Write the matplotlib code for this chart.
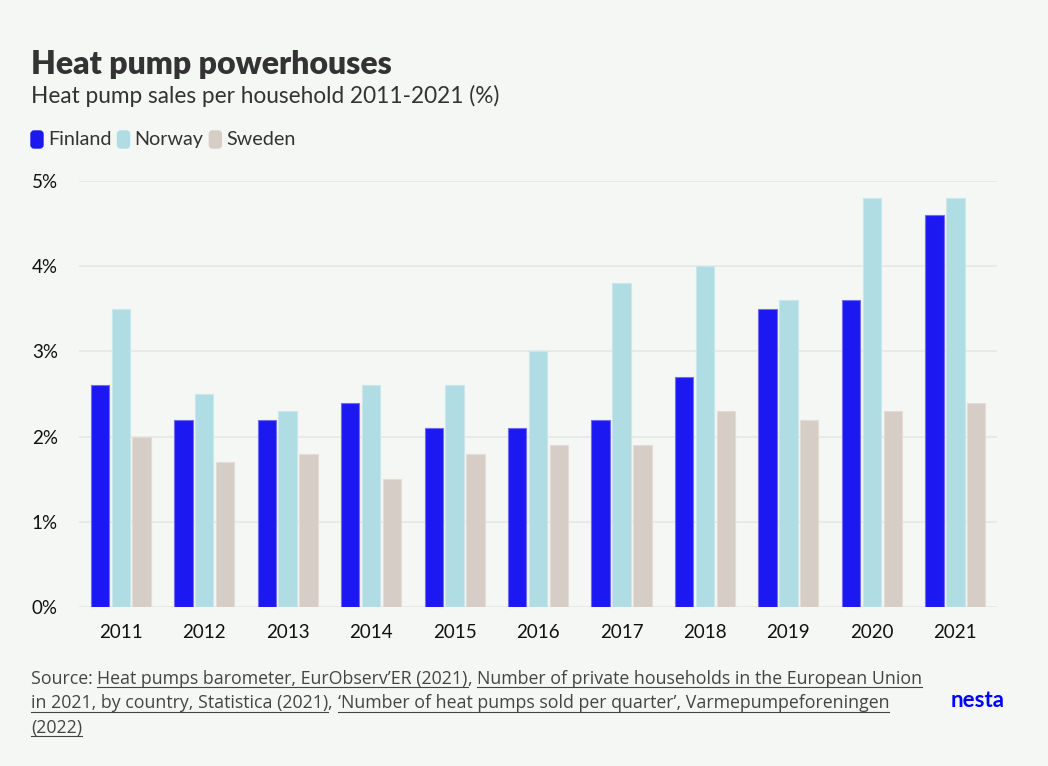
import matplotlib
matplotlib.use('Agg')
import numpy as np
from matplotlib import pyplot as plt
from matplotlib.patches import FancyBboxPatch
from matplotlib.ticker import FuncFormatter

# Heat pump sales per household (%)
years = ['2011', '2012', '2013', '2014', '2015', '2016', '2017', '2018', '2019', '2020', '2021']
finland = [2.6, 2.2, 2.2, 2.4, 2.1, 2.1, 2.2, 2.7, 3.5, 3.6, 4.6]
norway = [3.5, 2.5, 2.3, 2.6, 2.6, 3.0, 3.8, 4.0, 3.6, 4.8, 4.8]
sweden = [2.0, 1.7, 1.8, 1.5, 1.8, 1.9, 1.9, 2.3, 2.2, 2.3, 2.4]
series = ['Finland', 'Norway', 'Sweden']
yticks = [0, 1, 2, 3, 4, 5]

colors = ['#1c18f2', '#b0dce4', '#d6cdc7']
edges = ['#6f6cf5', '#c9e8ee', '#e3ddd8']
bg = '#f5f7f4'
dark = '#333333'

plt.rcParams['font.family'] = ['Lato', 'DejaVu Sans']

fig = plt.figure(figsize=(10.48, 7.66), dpi=100)
fig.patch.set_facecolor(bg)
ax = fig.add_axes([0.0754, 0.2076, 0.876, 0.5561])
ax.set_facecolor(bg)

x = np.arange(len(years))
width = 0.22
for i, vals in enumerate([finland, norway, sweden]):
    ax.bar(x + (i - 1) * 0.25, vals, width, color=colors[i],
           edgecolor=edges[i], linewidth=0.8, zorder=3)

ax.set_xlim(-0.5, len(years) - 0.5)
ax.set_ylim(0, 5)
ax.set_yticks(yticks)
ax.yaxis.set_major_formatter(FuncFormatter(lambda v, p: f'{v:.0f}%'))
ax.set_xticks(x)
ax.set_xticklabels(years)
ax.grid(axis='y', color='#e8e9e7', linewidth=1.3, zorder=0)
for s in ax.spines.values():
    s.set_visible(False)
ax.tick_params(axis='both', length=0, labelsize=13.5, labelcolor='#111111')
ax.tick_params(axis='x', pad=12)
ax.tick_params(axis='y', pad=34)
for lab in ax.get_yticklabels():
    lab.set_horizontalalignment('left')

# titles
fig.text(0.030, 0.903, 'Heat pump powerhouses', fontsize=23, fontweight='heavy',
         color=dark, va='baseline')
fig.text(0.030, 0.865, 'Heat pump sales per household 2011-2021 (%)', fontsize=16.3,
         color=dark, va='baseline')

# legend
lx = 31 / 1048
for name, c in zip(series, colors):
    fig.patches.append(FancyBboxPatch((lx, 1 - 148 / 766), 12 / 1048, 17 / 766,
                                      boxstyle='round,pad=0,rounding_size=0.003',
                                      transform=fig.transFigure, color=c,
                                      mutation_aspect=1048 / 766))
    t = fig.text(lx + 17 / 1048, 1 - 145 / 766, name, fontsize=14.2, color=dark,
                 va='baseline')
    fig.canvas.draw()
    bb = t.get_window_extent()
    lx = (bb.x1 + 6) / 1048

# source footer with underlined links
lines = [
    [('Source: ', False), ('Heat pumps barometer, EurObserv\u2019ER (2021)', True), (', ', False),
     ('Number of private households in the European Union', True)],
    [('in 2021, by country, Statistica (2021)', True), (', ', False),
     ('\u2018Number of heat pumps sold per quarter\u2019, Varmepumpeforeningen', True)],
    [('(2022)', True)],
]
fig.canvas.draw()
r = fig.canvas.get_renderer()
for k, parts in enumerate(lines):
    px = 31
    py = 766 - (684 + k * 24.5)
    for txt, ul in parts:
        t = fig.text(px / 1048, py / 766, txt, fontsize=12.8, color='#444444',
                     va='baseline', family=['Open Sans', 'DejaVu Sans'])
        bb = t.get_window_extent(renderer=r)
        if ul:
            fig.add_artist(plt.Line2D([bb.x0 / 1048, bb.x1 / 1048],
                                      [(py - 3) / 766, (py - 3) / 766],
                                      transform=fig.transFigure,
                                      color='#444444', linewidth=0.8))
        px = bb.x1

fig.text(1005 / 1048, 1 - 707 / 766, 'nesta', fontsize=16, fontweight='bold',
         color='#0000ff', ha='right', va='baseline')

fig.savefig('out.png', dpi=100, facecolor=bg)
